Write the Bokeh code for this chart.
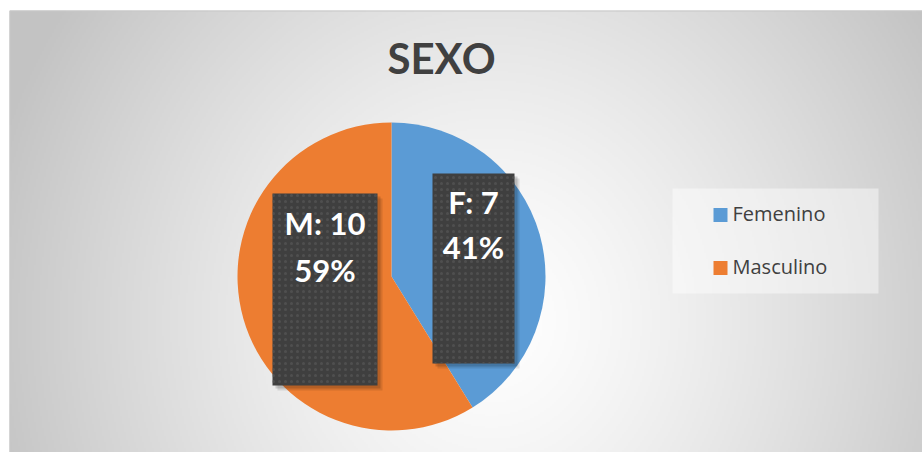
import numpy as np
from bokeh.plotting import figure
from bokeh.models import Range1d
from bokeh.core.properties import value
from bokeh.embed import file_html
from bokeh.resources import INLINE

# ---- data ----
title = "SEXO"
categories = ["Femenino", "Masculino"]
short_labels = ["F", "M"]
counts = [7, 10]
colors = ["#5B9BD5", "#ED7D31"]

W, H = 922, 452
def sy(y):
    return H - y

p = figure(width=W, height=H, output_backend="svg", toolbar_location=None,
           x_range=Range1d(0, W), y_range=Range1d(0, H), min_border=0)
p.axis.visible = False
p.grid.visible = False
p.outline_line_color = None
p.background_fill_color = "white"
p.border_fill_color = "white"

# ---- background radial gradient (style) ----
x0, y0 = 9, 10
bw, bh = W - x0, H - y0
sc = 2
nx, ny = bw // sc, bh // sc
xs = x0 + (np.arange(nx) + 0.5) * sc
ys_screen = H - (np.arange(ny) + 0.5) * sc  # row 0 = bottom
X, Y = np.meshgrid(xs, ys_screen)
cx, cy, rx, ry = 490, 320, 520, 560
t = np.sqrt(((X - cx) / rx) ** 2 + ((Y - cy) / ry) ** 2)
t = np.clip(t, 0, 1)
g = (255 - 60 * t ** 1.3).astype(np.uint32)
img = (255 << 24) | (g << 16) | (g << 8) | g
p.image_rgba(image=[img.astype(np.uint32)], x=x0, y=0, dw=bw, dh=bh)
p.quad(left=x0 + 0.5, right=W + 5, bottom=-5, top=sy(y0 + 0.5),
       fill_color=None, line_color="#c8c8c8", line_width=1)

# ---- pie ----
total = sum(counts)
fracs = [c / total for c in counts]
cum = np.concatenate([[0], np.cumsum(fracs)])
starts = [np.pi / 2 - 2 * np.pi * cum[i] for i in range(len(counts))]
ends = [np.pi / 2 - 2 * np.pi * cum[i + 1] for i in range(len(counts))]
pcx, pcy, pr = 391, sy(276), 154
p.wedge(x=pcx, y=pcy, radius=pr, start_angle=starts, end_angle=ends,
        direction="clock", fill_color=colors, line_color=None)

# ---- data labels (boxes) ----
boxes = [(432, 514, 173, 363), (272, 377, 193, 385)]
line1_y = [201.5, 222.5]
line2_y = [246.5, 269]
for i, (l, r, tp, bt) in enumerate(boxes):
    for off, a in [(5, 0.10), (3, 0.15)]:
        p.quad(left=l + off, right=r + off, top=sy(tp + off), bottom=sy(bt + off),
               fill_color="black", fill_alpha=a, line_color=None)
    p.quad(left=l, right=r, top=sy(tp), bottom=sy(bt), fill_color="#3f3f3f",
           line_color=None, hatch_pattern="dot", hatch_color="#5a5a5a",
           hatch_scale=6, hatch_weight=1, hatch_alpha=0.6)
    cxl = (l + r) / 2
    pct = f"{round(100 * fracs[i])}%"
    p.text(x=[cxl, cxl], y=[sy(line1_y[i]), sy(line2_y[i])],
           text=[f"{short_labels[i]}: {counts[i]}", pct],
           text_font=value("Lato"), text_font_style="bold", text_font_size="31px",
           text_color="white", text_align="center", text_baseline="middle")

# ---- title ----
p.text(x=[441], y=[sy(57)], text=[title], text_font=value("Lato"),
       text_font_style="bold", text_font_size="42px", text_color="#404040",
       text_align="center", text_baseline="middle")

# ---- legend ----
p.quad(left=672, right=878, top=sy(188), bottom=sy(293), fill_color="white",
       fill_alpha=0.45, line_color=None)
leg_y = [214.5, 267.5]
p.rect(x=[720, 720], y=[sy(v) for v in leg_y], width=14, height=14,
       fill_color=colors, line_color=None)
p.text(x=[732, 732], y=[sy(v - 1.5) for v in leg_y], text=categories,
       text_font=value("Open Sans"), text_font_size="20px", text_color="#404040",
       text_align="left", text_baseline="middle")

open("out.html", "w").write(file_html(p, INLINE))
